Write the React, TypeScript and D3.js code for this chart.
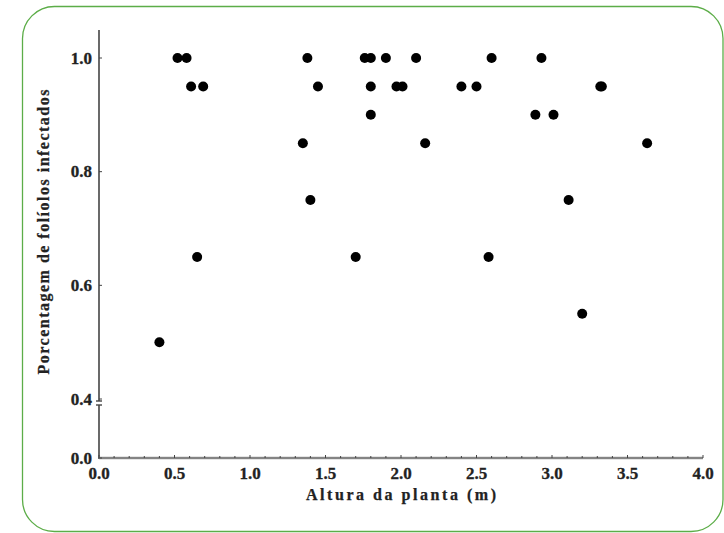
import React from "react";
import * as d3 from "d3";

const heights: number[] = [
  0.52, 0.58, 1.38, 1.76, 1.8, 1.9, 2.1, 2.6, 2.93,
  0.61, 0.69, 1.45, 1.8, 1.97, 2.01, 2.4, 2.5, 3.32, 3.33,
  1.8, 2.89, 3.01,
  1.35, 2.16, 3.63,
  1.4, 3.11,
  0.65, 1.7, 2.58,
  3.2,
  0.4,
];
const infected: number[] = [
  1.0, 1.0, 1.0, 1.0, 1.0, 1.0, 1.0, 1.0, 1.0,
  0.95, 0.95, 0.95, 0.95, 0.95, 0.95, 0.95, 0.95, 0.95, 0.95,
  0.9, 0.9, 0.9,
  0.85, 0.85, 0.85,
  0.75, 0.75,
  0.65, 0.65, 0.65,
  0.55,
  0.5,
];
const xTicks: number[] = [0, 0.5, 1.0, 1.5, 2.0, 2.5, 3.0, 3.5, 4.0];
const yTicks: number[] = [0, 0.4, 0.6, 0.8, 1.0];
const xTitle = "Altura da planta (m)";
const yTitle = "Porcentagem de folíolos infectados";

const W = 724;
const H = 533;

export default function App() {
  const x = d3.scaleLinear().domain([0, 4]).range([99, 703]);
  const y = d3.scaleLinear().domain([0, 0.4, 1.0]).range([458, 399, 58]);
  const minor = d3.range(0, 40.5, 1).map((d) => d / 10);
  const fam = "'Liberation Serif', 'Times New Roman', Times, serif";
  const tickStyle: React.CSSProperties = { fontFamily: fam, fontWeight: 700, fontSize: "17px" };
  const titleStyle: React.CSSProperties = { fontFamily: fam, fontWeight: 700, fontSize: "16px" };
  const axisX = x(0);
  const breakTop = 401;
  const breakBot = 405;
  return (
    <svg
      width={W}
      height={H}
      style={{ position: "absolute", left: 0, top: 0, background: "#fff" }}
    >
      <rect
        x={22.5}
        y={6.5}
        width={700.5}
        height={525}
        rx={32}
        ry={32}
        fill="none"
        stroke="#5cad48"
        strokeWidth={1.3}
      />
      <line x1={axisX} x2={axisX} y1={30} y2={breakTop} stroke="#444" strokeWidth={1.6} />
      <line x1={axisX - 3} x2={axisX + 3} y1={breakTop} y2={breakTop} stroke="#444" strokeWidth={1.4} />
      <line x1={axisX - 3} x2={axisX + 3} y1={breakBot} y2={breakBot} stroke="#444" strokeWidth={1.4} />
      <line x1={axisX} x2={axisX} y1={breakBot} y2={y(0) + 1} stroke="#444" strokeWidth={1.6} />
      <line x1={axisX} x2={x(4)} y1={y(0)} y2={y(0)} stroke="#999" strokeWidth={2.4} />
      <line x1={axisX} x2={x(4)} y1={y(0)} y2={y(0)} stroke="#666" strokeWidth={0.8} />
      {minor.map((t, i) => (
        <line
          key={"mx" + i}
          x1={x(t)}
          x2={x(t)}
          y1={y(0)}
          y2={y(0) - (i % 5 === 0 ? 3 : 2)}
          stroke="#444"
          strokeWidth={1}
        />
      ))}
      {yTicks.map((t) => (
        <line key={"ty" + t} x1={axisX} x2={axisX + 3} y1={y(t)} y2={y(t)} stroke="#444" strokeWidth={1} />
      ))}
      {xTicks.map((t) => (
        <text
          key={"lx" + t}
          x={x(t)}
          y={y(0) + 15}
          textAnchor="middle"
          dominantBaseline="central"
          style={tickStyle}
          fill="#222"
          stroke="#222"
          strokeWidth={0.3}
        >
          {t.toFixed(1)}
        </text>
      ))}
      {yTicks.map((t) => (
        <text
          key={"ly" + t}
          x={92}
          y={y(t)}
          textAnchor="end"
          dominantBaseline="central"
          style={tickStyle}
          fill="#222"
          stroke="#222"
          strokeWidth={0.3}
        >
          {t.toFixed(1)}
        </text>
      ))}
      <text
        x={401}
        y={y(0) + 36}
        textAnchor="middle"
        dominantBaseline="central"
        style={titleStyle}
        fill="#222"
        stroke="#222"
        strokeWidth={0.25}
        textLength={190}
        lengthAdjust="spacing"
      >
        {xTitle}
      </text>
      <text
        transform={`translate(43, 232) rotate(-90)`}
        textAnchor="middle"
        dominantBaseline="central"
        style={titleStyle}
        fill="#222"
        stroke="#222"
        strokeWidth={0.25}
        textLength={285}
        lengthAdjust="spacing"
      >
        {yTitle}
      </text>
      {heights.map((h, i) => (
        <circle key={"p" + i} cx={x(h)} cy={y(infected[i])} r={5} fill="#000" />
      ))}
    </svg>
  );
}
